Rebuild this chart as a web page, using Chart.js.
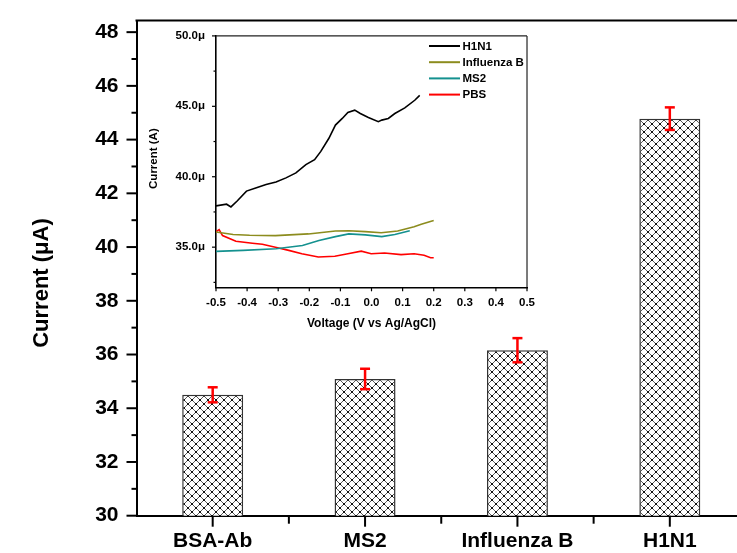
<!DOCTYPE html>
<html><head><meta charset="utf-8">
<script src="https://cdn.jsdelivr.net/npm/chart.js@4.4.1/dist/chart.umd.min.js"></script>
<style>
html,body{margin:0;padding:0;overflow:hidden;background:#fff;width:737px;height:553px;}
#main{position:absolute;left:0;top:0;}
#inset{position:absolute;left:145px;top:22px;}
</style></head><body>
<canvas id="main" width="760" height="553"></canvas>
<canvas id="inset" width="395" height="312"></canvas>
<script>
// ---------- main bar chart data ----------
const categories = ['BSA-Ab', 'MS2', 'Influenza B', 'H1N1'];
const currents = [34.50, 35.09, 36.16, 44.78];
const errors = [0.28, 0.38, 0.45, 0.42];
const mainYTicks = [30,31,32,33,34,35,36,37,38,39,40,41,42,43,44,45,46,47,48];
const mainYTitle = 'Current (\u03BCA)';

// ---------- inset DPV curves ----------
const insetLabels = ['H1N1', 'Influenza B', 'MS2', 'PBS'];
const insetColors = ['#000000', '#8c8c1e', '#14918f', '#ff0000'];
const h1n1V = [-0.5,-0.466,-0.452,-0.432,-0.402,-0.37,-0.339,-0.307,-0.275,-0.243,-0.211,-0.183,-0.163,-0.137,-0.116,-0.094,-0.076,-0.054,-0.036,-0.010,0.022,0.033,0.054,0.075,0.107,0.139,0.155];
const h1n1I = [37.93,38.05,37.86,38.28,38.98,39.22,39.45,39.62,39.92,40.27,40.86,41.21,41.80,42.73,43.67,44.14,44.56,44.73,44.49,44.21,43.91,44.02,44.14,44.49,44.89,45.43,45.78];
const fluBV = [-0.5,-0.445,-0.392,-0.309,-0.203,-0.116,-0.073,-0.020,0.031,0.084,0.137,0.16,0.2];
const fluBI = [36.08,35.9,35.85,35.82,35.94,36.15,36.17,36.10,36.02,36.15,36.45,36.62,36.9];
const ms2V = [-0.5,-0.413,-0.307,-0.222,-0.169,-0.116,-0.073,-0.02,0.033,0.075,0.123];
const ms2I = [34.70,34.77,34.89,35.12,35.47,35.75,35.94,35.87,35.75,35.90,36.17];
const pbsV = [-0.5,-0.49,-0.479,-0.436,-0.383,-0.351,-0.309,-0.266,-0.224,-0.171,-0.118,-0.076,-0.033,-0.001,0.042,0.095,0.137,0.169,0.19,0.2];
const pbsI = [36.1,36.25,35.82,35.42,35.28,35.21,35.0,34.77,34.53,34.30,34.35,34.53,34.72,34.53,34.58,34.47,34.53,34.42,34.25,34.25];
const insetXTicks = [-0.5,-0.4,-0.3,-0.2,-0.1,0,0.1,0.2,0.3,0.4,0.5];
const insetYTicks = [32.5,35,37.5,40,42.5,45,47.5,50];
const insetXTitle = 'Voltage (V vs Ag/AgCl)';
const insetYTitle = 'Current (A)';

const FONT = "'Liberation Sans', Arial, sans-serif";

// crosshatch pattern
function makeHatch(){
  const c = document.createElement('canvas');
  c.width = 8; c.height = 8;
  const g = c.getContext('2d');
  g.fillStyle = '#ffffff'; g.fillRect(0,0,8,8);
  g.strokeStyle = '#5a5a5a'; g.lineWidth = 1;
  g.beginPath(); g.moveTo(0,0); g.lineTo(8,8); g.moveTo(8,0); g.lineTo(0,8); g.stroke();
  g.fillStyle = '#000';
  g.fillRect(3.1,3.1,1.8,1.8);
  [[0,0],[8,0],[0,8],[8,8]].forEach(([px,py])=>g.fillRect(px-0.9,py-0.9,1.8,1.8));
  return document.getElementById('main').getContext('2d').createPattern(c,'repeat');
}

function line(ctx,x1,y1,x2,y2){ctx.beginPath();ctx.moveTo(x1,y1);ctx.lineTo(x2,y2);ctx.stroke();}

const mainDecor = {
  id:'mainDecor',
  afterDatasetsDraw(chart){
    const {ctx, chartArea:a, scales:{x,y}} = chart;
    ctx.save();
    ctx.strokeStyle = '#000'; ctx.lineWidth = 2;
    line(ctx, a.left-1, a.top, a.right, a.top);
    line(ctx, a.right, a.top, a.right, a.bottom);
    mainYTicks.forEach(v=>{
      const py = y.getPixelForValue(v);
      const len = v%2===0 ? 10 : 5;
      line(ctx, a.left-len, py, a.left, py);
    });
    categories.forEach((c,i)=>{
      const px = x.getPixelForValue(i);
      line(ctx, px, a.bottom, px, a.bottom+11);
      const nx = i<categories.length-1 ? x.getPixelForValue(i+1) : px + (px - x.getPixelForValue(i-1));
      const b = (px+nx)/2;
      line(ctx, b, a.bottom, b, a.bottom+8);
    });
    ctx.strokeStyle = '#ff0000'; ctx.lineWidth = 2.5;
    currents.forEach((v,i)=>{
      const px = x.getPixelForValue(i);
      const t = y.getPixelForValue(v+errors[i]);
      const b = y.getPixelForValue(v-errors[i]);
      line(ctx, px, t, px, b);
      line(ctx, px-5, t, px+5, t);
      line(ctx, px-5, b, px+5, b);
    });
    ctx.translate(42, 283); ctx.rotate(-Math.PI/2);
    ctx.fillStyle = '#000'; ctx.font = `bold 22px ${FONT}`;
    ctx.textAlign = 'center'; ctx.textBaseline = 'middle';
    ctx.fillText(mainYTitle, 0, 0);
    ctx.restore();
  }
};

new Chart(document.getElementById('main'), {
  type:'bar',
  data:{
    labels: categories,
    datasets:[{
      data: currents,
      backgroundColor: makeHatch(),
      borderColor:'#333',
      borderWidth:1.5,
      barPercentage:0.4,
      categoryPercentage:1.0
    }]
  },
  options:{
    responsive:false, animation:false,
    layout:{padding:{top:18.3, right:14, left:0, bottom:0}},
    plugins:{legend:{display:false}, tooltip:{enabled:false}},
    scales:{
      x:{
        grid:{drawOnChartArea:false, color:'rgba(0,0,0,0)', tickLength:11},
        border:{display:true, color:'#000', width:2},
        ticks:{color:'#000', font:{family:FONT, size:21, weight:'bold'}, padding:2, maxRotation:0, autoSkip:false},
        afterFit(s){ s.height = 37.3; }
      },
      y:{
        min:30, max:48.43,
        grid:{drawOnChartArea:false, color:'rgba(0,0,0,0)', tickLength:10},
        border:{display:true, color:'#000', width:2},
        afterBuildTicks(s){ s.ticks = mainYTicks.map(v=>({value:v})); },
        ticks:{color:'#000', font:{family:FONT, size:21, weight:'bold'}, padding:8,
          callback:(v)=> v%2===0 ? String(v) : ''},
        afterFit(s){ s.width = 136.5; }
      }
    }
  },
  plugins:[mainDecor]
});

// ---------- inset ----------
const insetDecor = {
  id:'insetDecor',
  afterDraw(chart){
    const {ctx, chartArea:a, scales:{x,y}} = chart;
    ctx.save();
    ctx.strokeStyle = '#222'; ctx.lineWidth = 1.2;
    line(ctx, a.left, a.top, a.right, a.top);
    line(ctx, a.right, a.top, a.right, a.bottom);
    ctx.strokeStyle = '#000'; ctx.lineWidth = 1.2;
    insetYTicks.forEach(v=>{
      const py = y.getPixelForValue(v);
      const len = v%5===0 ? 4 : 2.5;
      line(ctx, a.left-len, py, a.left, py);
    });
    insetXTicks.forEach(v=>{
      const px = x.getPixelForValue(v);
      line(ctx, px, a.bottom, px, a.bottom+4);
    });
    ctx.fillStyle = '#000';
    ctx.textAlign = 'center'; ctx.textBaseline = 'middle';
    ctx.font = `bold 12px ${FONT}`;
    ctx.fillText(insetXTitle, (a.left+a.right)/2, 302);
    ctx.save();
    ctx.translate(8.5, (a.top+a.bottom)/2 - 3); ctx.rotate(-Math.PI/2);
    ctx.font = `bold 11.5px ${FONT}`;
    ctx.fillText(insetYTitle, 0, 0);
    ctx.restore();
    // legend
    ctx.textAlign = 'left';
    ctx.font = `bold 11.5px ${FONT}`;
    chart.data.datasets.forEach((ds,i)=>{
      const ly = 24 + i*16.2;
      ctx.strokeStyle = ds.borderColor; ctx.lineWidth = 2;
      line(ctx, 284, ly, 315, ly);
      ctx.fillStyle = '#000';
      ctx.fillText(ds.label, 317.5, ly+0.5);
    });
    ctx.restore();
  }
};

function pts(vs, is){ return vs.map((v,k)=>({x:v, y:is[k]})); }
const insetSeries = [pts(h1n1V,h1n1I), pts(fluBV,fluBI), pts(ms2V,ms2I), pts(pbsV,pbsI)];

new Chart(document.getElementById('inset'), {
  type:'line',
  data:{
    datasets: insetSeries.map((d,i)=>({
      label: insetLabels[i], data:d, borderColor: insetColors[i],
      borderWidth:1.6, pointRadius:0, tension:0, fill:false
    }))
  },
  options:{
    responsive:false, animation:false,
    layout:{padding:{top:11.3, right:10.5, left:0, bottom:0}},
    plugins:{legend:{display:false}, tooltip:{enabled:false}},
    scales:{
      x:{
        type:'linear', min:-0.5, max:0.5,
        grid:{drawOnChartArea:false, color:'rgba(0,0,0,0)', tickLength:4},
        border:{display:true, color:'#000', width:1.6},
        afterBuildTicks(s){ s.ticks = insetXTicks.map(v=>({value:v})); },
        ticks:{color:'#000', font:{family:FONT, size:11.5, weight:'bold'}, padding:5, maxRotation:0, autoSkip:false,
          callback:(v)=> Number(v).toFixed(1)},
        afterFit(s){ s.height = 46.7; }
      },
      y:{
        type:'linear', min:32.15, max:50,
        grid:{drawOnChartArea:false, color:'rgba(0,0,0,0)', tickLength:4},
        border:{display:true, color:'#000', width:1.6},
        afterBuildTicks(s){ s.ticks = insetYTicks.map(v=>({value:v})); },
        ticks:{color:'#000', font:{family:FONT, size:11.5, weight:'bold'}, padding:7, autoSkip:false,
          callback:(v)=> v%5===0 ? Number(v).toFixed(1)+'\u03BC' : ''},
        afterFit(s){ s.width = 71; }
      }
    }
  },
  plugins:[insetDecor]
});
</script>
</body></html>
